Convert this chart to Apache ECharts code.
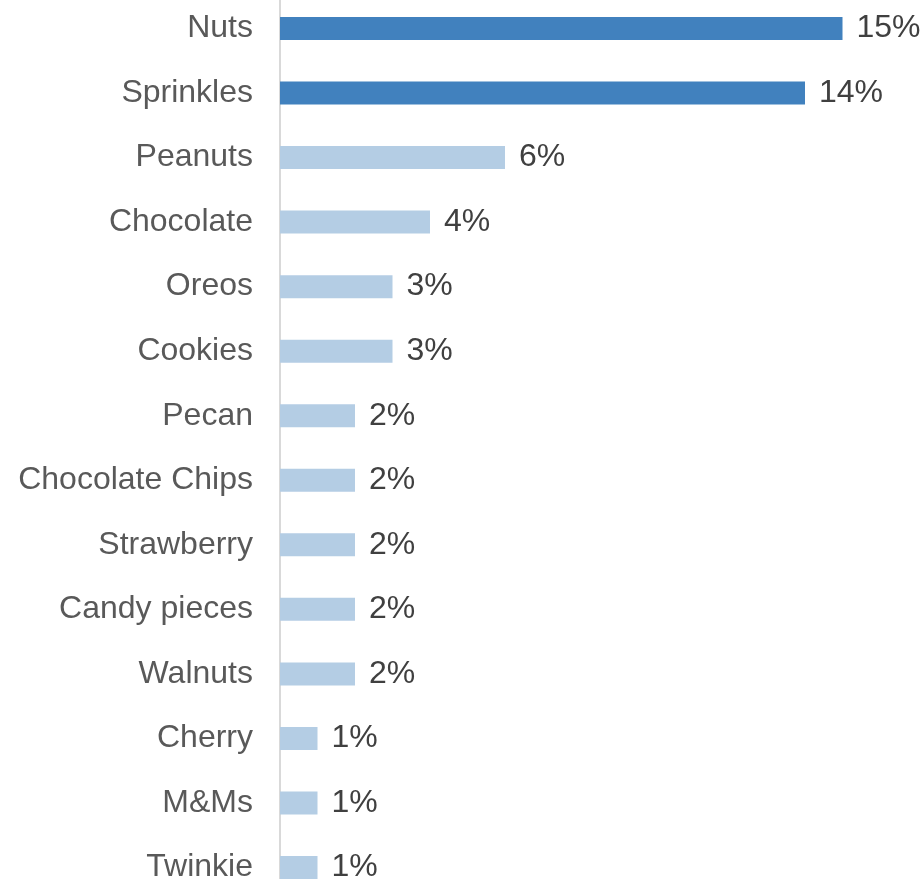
<!DOCTYPE html>
<html>
<head>
<meta charset="utf-8">
<script src="https://cdn.jsdelivr.net/npm/echarts@6/dist/echarts.min.js"></script>
<style>
  html, body { margin: 0; padding: 0; background: #ffffff; }
  #chart { width: 924px; height: 879px; }
</style>
</head>
<body>
<div id="chart"></div>
<script>
// Toppings and their share of mentions (percent)
const toppings = ['Nuts', 'Sprinkles', 'Peanuts', 'Chocolate', 'Oreos', 'Cookies', 'Pecan',
  'Chocolate Chips', 'Strawberry', 'Candy pieces', 'Walnuts', 'Cherry', 'M&Ms', 'Twinkie'];
const shares = [15, 14, 6, 4, 3, 3, 2, 2, 2, 2, 2, 1, 1, 1];
// The two leading toppings are highlighted
const highlighted = ['Nuts', 'Sprinkles'];

const darkBlue = '#4181be';
const lightBlue = '#b4cde4';

const chart = echarts.init(document.getElementById('chart'), null, { renderer: 'canvas' });

chart.setOption({
  animation: false,
  grid: {
    left: 280, top: -3.8, width: 637.5, height: 903.6,
    containLabel: false,
    outerBoundsMode: 'none'
  },
  xAxis: {
    type: 'value', min: 0, max: 17,
    show: false
  },
  yAxis: {
    type: 'category',
    data: toppings,
    inverse: true,
    axisLine: { show: true, lineStyle: { color: '#d9d9d9', width: 2 } },
    axisTick: { show: false },
    axisLabel: {
      margin: 27,
      fontFamily: 'Liberation Sans, Arial, sans-serif',
      fontSize: 32,
      color: '#595959'
    }
  },
  series: [{
    type: 'bar',
    barWidth: 23,
    data: shares.map((v, i) => ({
      value: v,
      itemStyle: { color: highlighted.includes(toppings[i]) ? darkBlue : lightBlue }
    })),
    label: {
      show: true,
      position: 'right',
      distance: 14,
      formatter: p => p.value + '%',
      fontFamily: 'Liberation Sans, Arial, sans-serif',
      fontSize: 32,
      color: '#404040'
    }
  }]
});
</script>
</body>
</html>
